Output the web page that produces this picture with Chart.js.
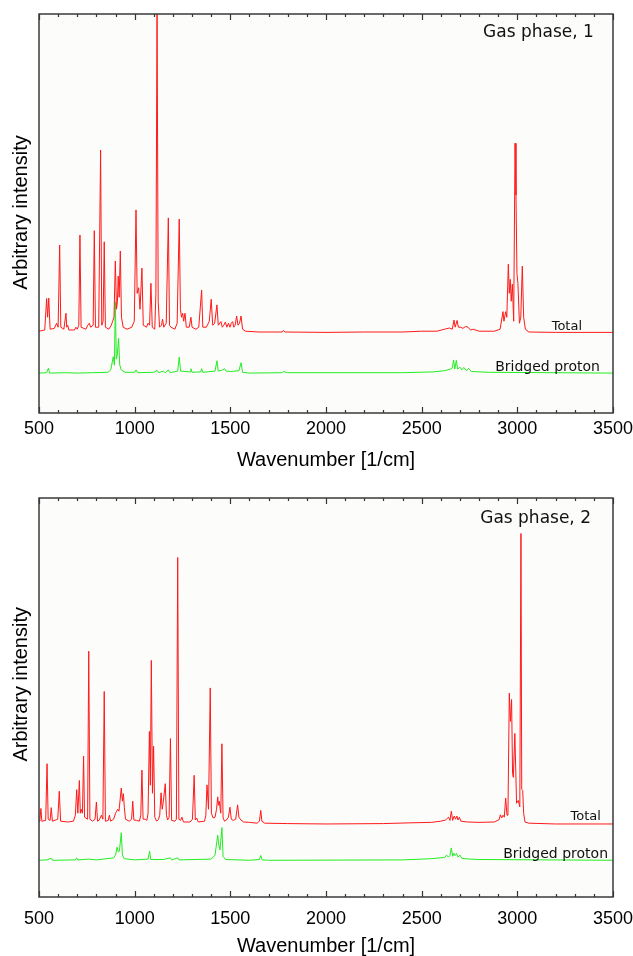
<!DOCTYPE html>
<html><head><meta charset="utf-8">
<script src="https://cdn.jsdelivr.net/npm/chart.js@4.4.0/dist/chart.umd.min.js"></script>
<style>
html,body{margin:0;padding:0;background:#fff;}
.panel{position:absolute;left:0;width:633px;height:478px;}
canvas{display:block;}
</style></head><body>
<div class="panel" style="top:0"><canvas id="c1" width="633" height="478"></canvas></div>
<div class="panel" style="top:478px"><canvas id="c2" width="633" height="478"></canvas></div>
<script>
// ---- tick labels ----
const xTickLabels = [500, 1000, 1500, 2000, 2500, 3000, 3500];
const xMinorTicks = [600,700,800,900,1100,1200,1300,1400,1600,1700,1800,1900,2100,2200,2300,2400,
  2600,2700,2800,2900,3100,3200,3300,3400];
const panelTitles = ['Gas phase, 1', 'Gas phase, 2'];
const seriesNames = ['Total', 'Bridged proton'];
const xAxisTitle = 'Wavenumber [1/cm]';
const yAxisTitle = 'Arbitrary intensity';

// ---- series: [wavenumber, intensity] ----
const total1 = [[500,20.5],[530,20.8],[540,28.7],[545,24],[551,28.8],[558,21],[580,21.2],[592,22.5],[600,21.5],
[608,42.1],[614,21.5],[630,21],[641,25],[645,21.5],[650,22],[656,20.8],[685,20.8],[693,21.5],[700,21],[708,22],
[714,44.6],[720,21.5],[745,21],[755,22],[763,22.5],[770,21.5],[783,22],[789,45.7],[795,21.5],[812,21.5],
[822,65.9],[828,22],[835,23],[841,42.9],[847,21.5],[865,21],[878,22],[885,23],[892,24],[899,38.1],[905,26],
[910,28],[914,34.3],[919,29],[925,40.6],[931,24],[940,21.5],[960,21],[985,21.5],[998,23],[1007,50.9],[1013,30],
[1021,31.4],[1028,26],[1038,36.3],[1045,22],[1062,21.5],[1070,22.5],[1078,22],[1085,32.5],[1092,21.5],[1105,21],
[1111,30],[1117,102],[1123,28],[1130,21.5],[1140,22],[1146,23.5],[1152,21.5],[1165,22.5],[1176,48.9],[1182,22],
[1190,21.5],[1210,21],[1222,22.5],[1233,48.6],[1239,26],[1245,24],[1251,25],[1256,23],[1263,25],[1270,21.5],
[1285,21.5],[1294,24],[1300,21.5],[1320,21],[1335,21.5],[1350,30.8],[1356,21.5],[1375,21.5],[1390,23],[1400,28.5],
[1408,22],[1418,22.5],[1430,27.1],[1437,22],[1451,22.9],[1458,21.5],[1466,22],[1474,22.8],[1482,21.5],[1490,22.5],
[1498,21.5],[1505,22.5],[1512,22.9],[1518,21.5],[1525,22],[1533,24.3],[1540,22],[1548,22.5],[1556,24.3],[1564,21],
[1580,20.5],[1650,20.3],[1770,20.3],[1777,20.7],[1785,20.3],[2000,20.2],[2200,20.3],[2400,20.3],[2500,20.5],[2580,20.5],
[2620,21],[2645,21.3],[2660,21],[2669,23.3],[2675,21.5],[2685,23.2],[2692,21.5],[2705,21.5],[2715,21.2],[2730,21.7],
[2742,21.5],[2755,20.8],[2770,21],[2800,20.5],[2880,20.5],[2910,21],[2925,25.4],[2930,23],[2939,25.4],[2945,24],
[2953,37.3],[2958,30],[2963,33.5],[2968,28],[2974,32.3],[2981,23],[2988,67.6],[2993,54.6],[2998,35],[3003,32.5],
[3011,22.5],[3018,24],[3026,36.8],[3033,24],[3042,21],[3060,20.3],[3200,20.2],[3500,20.2]];

const bridged1 = [[500,10],[540,10.1],[549,11.2],[556,10],[640,10.1],[700,10],[780,10.1],[860,10.2],[875,10.8],
[888,14.1],[894,12],[899,27.9],[904,13.5],[909,14.5],[916,18.7],[922,12],[930,10.8],[950,10.2],[1000,10.2],[1007,10.8],
[1015,10.1],[1100,10.2],[1117,10.7],[1125,10.1],[1150,10.5],[1160,10.1],[1176,10.8],[1185,10.1],[1225,10.5],[1233,14],
[1240,10.5],[1290,10.3],[1294,11.1],[1300,10.2],[1345,10.3],[1350,11.1],[1356,10.2],[1420,10.5],[1430,13.1],
[1437,10.5],[1460,10.8],[1470,11.1],[1478,10.5],[1500,10.4],[1545,10.6],[1556,12.6],[1564,10.2],[1600,10],
[1770,10.1],[1777,10.4],[1800,10.1],[2400,10.1],[2560,10.3],[2620,10.6],[2650,11],[2660,11.3],[2667,13.3],[2673,11],
[2681,13.2],[2688,11],[2700,11.5],[2710,10.8],[2720,11.4],[2735,10.6],[2745,11.2],[2760,10.4],[2850,10.2],[3500,10]];

const total2 = [[500,19],[505,19.5],[510,22.2],[515,19],[535,19.2],[542,33.4],[548,19.5],[558,19.2],[564,22.4],
[570,19],[598,19.5],[606,26.5],[613,19],[650,18.8],[680,19],[690,20.5],[697,26.9],[703,21],[711,29.2],[716,21],
[720,22],[727,21],[733,35.3],[738,20],[754,19.5],[760,61.6],[766,19.5],[780,19],[793,19.5],[800,23.8],[806,19],
[815,19.3],[826,20.5],[834,19.5],[841,51.5],[847,19],[862,19.2],[868,20.5],[874,19],[890,19.5],[900,21],[906,21.5],
[911,22],[918,21.5],[930,27.3],[936,24],[941,25.9],[946,22.5],[952,19.5],[972,19],[984,19.5],[990,24],[996,19.3],
[1010,19.2],[1025,19],[1032,20.5],[1038,31.8],[1044,19.5],[1055,19.5],[1064,19.2],[1070,21],[1077,41.5],[1082,28],
[1087,59.3],[1093,26],[1099,37.8],[1105,20],[1115,19],[1125,19.5],[1131,20.5],[1138,26.1],[1144,22],[1150,24],
[1160,28.4],[1166,20.5],[1172,19.3],[1180,20],[1187,39.7],[1193,19.2],[1210,19],[1218,19.5],[1225,85.1],[1231,19.5],
[1240,19.2],[1247,20],[1255,18.8],[1290,18.8],[1302,19.5],[1311,30.5],[1317,19.3],[1324,19.8],[1332,18.8],[1365,19],
[1372,20.5],[1378,28.1],[1386,22],[1395,52.4],[1401,21],[1410,19.8],[1420,20],[1428,22],[1434,25.1],[1438,23],
[1442,24],[1450,21],[1456,38.4],[1462,19.8],[1470,19],[1480,19.3],[1490,20],[1498,22.5],[1505,19.5],[1515,19.2],
[1528,19.5],[1538,23.1],[1545,20],[1555,19.3],[1570,18.8],[1600,18.7],[1640,18.5],[1652,19],[1659,21.7],[1665,19],
[1680,18.5],[1800,18.4],[2000,18.3],[2300,18.4],[2450,18.6],[2550,18.7],[2600,19],[2625,19.3],[2640,20],[2648,19.2],
[2655,21.5],[2662,19.2],[2670,20.3],[2677,19.5],[2684,20.3],[2690,19.3],[2697,20],[2705,19],[2740,18.8],[2800,18.7],
[2880,18.8],[2905,19.4],[2911,20.6],[2918,19.8],[2925,20.5],[2932,20],[2939,24.8],[2946,20.5],[2951,21],[2958,51.1],
[2964,44],[2970,49.5],[2975,31],[2979,30],[2987,41],[2996,23.5],[3005,24.2],[3013,22.6],[3019,91.1],[3023,27],
[3028,26.7],[3033,21],[3040,18.8],[3060,18.5],[3200,18.3],[3500,18.3]];

const bridged2 = [[500,9.2],[542,9.3],[564,9.7],[570,9.2],[690,9.3],[697,9.8],[703,9.3],[760,9.5],[800,9.3],
[890,9.8],[900,10.5],[908,12.5],[914,11.3],[920,11.5],[930,16.1],[936,10.5],[945,9.6],[1000,9.3],[1070,9.5],
[1078,11.5],[1084,9.4],[1150,9.4],[1187,9.8],[1193,9.3],[1225,9.8],[1231,9.3],[1400,9.5],[1420,10.5],[1434,15.5],
[1440,13],[1446,11.8],[1456,17.4],[1462,10.2],[1475,9.4],[1600,9.2],[1652,9.4],[1659,10.4],[1666,9.3],[1700,9.2],
[2400,9.3],[2550,9.6],[2620,9.9],[2630,10.5],[2640,10],[2648,10.4],[2655,12.3],[2662,10.2],[2668,11],[2675,10.4],
[2682,10.9],[2690,10],[2700,10.5],[2710,9.7],[2750,9.5],[2800,9.4],[3500,9.2]];

// ---- drawing helpers ----
const decorPlugin = {
  id: 'decor',
  beforeDatasetsDraw(chart) {
    const {ctx, chartArea: a} = chart;
    ctx.save();
    ctx.fillStyle = '#fcfcfa';
    ctx.fillRect(a.left, a.top, a.right - a.left, a.bottom - a.top);
    ctx.restore();
  },
  afterDraw(chart, args, opts) {
    const {ctx, chartArea: a, scales} = chart;
    const x = scales.x, y = scales.y;
    ctx.save();
    ctx.strokeStyle = '#333';
    ctx.lineWidth = 1.2;
    const tick = (v, len) => {
      const px = Math.round(x.getPixelForValue(v)) + 0.5;
      ctx.beginPath();
      ctx.moveTo(px, a.bottom); ctx.lineTo(px, a.bottom - len);
      ctx.moveTo(px, a.top); ctx.lineTo(px, a.top + len);
      ctx.stroke();
    };
    xMinorTicks.forEach(v => tick(v, 3));
    xTickLabels.forEach(v => tick(v, 6));
    ctx.strokeStyle = '#3a3a3a';
    ctx.lineWidth = 1.5;
    ctx.strokeRect(a.left, a.top, a.right - a.left, a.bottom - a.top);
    ctx.fillStyle = '#111';
    ctx.textAlign = 'right';
    ctx.textBaseline = 'alphabetic';
    ctx.font = '17px "DejaVu Sans"';
    ctx.fillText(opts.title, x.getPixelForValue(opts.titlePos[0]), y.getPixelForValue(opts.titlePos[1]));
    ctx.font = '13px "DejaVu Sans"';
    ctx.fillText(seriesNames[0], x.getPixelForValue(opts.totalPos[0]), y.getPixelForValue(opts.totalPos[1]));
    ctx.font = '14px "DejaVu Sans"';
    ctx.fillText(seriesNames[1], x.getPixelForValue(opts.bridgedPos[0]), y.getPixelForValue(opts.bridgedPos[1]));
    ctx.translate(21.5, opts.yTitleCenter);
    ctx.rotate(-Math.PI / 2);
    ctx.textAlign = 'center';
    ctx.textBaseline = 'middle';
    ctx.fillStyle = '#000';
    ctx.font = '20px "Liberation Sans", Arial, sans-serif';
    ctx.fillText(yAxisTitle, 0, 0);
    ctx.restore();
  }
};

function toPoints(arr) { return arr.map(p => ({x: p[0], y: p[1]})); }

function makeChart(id, total, bridged, cfg) {
  return new Chart(document.getElementById(id), {
    type: 'line',
    data: {
      datasets: [
        {label: seriesNames[0], data: toPoints(total), borderColor: '#ff1a1a', borderWidth: 1,
         pointRadius: 0, tension: 0, fill: false},
        {label: seriesNames[1], data: toPoints(bridged), borderColor: '#22ee22', borderWidth: 1,
         pointRadius: 0, tension: 0, fill: false}
      ]
    },
    options: {
      responsive: false,
      animation: false,
      devicePixelRatio: 1,
      layout: {padding: {top: cfg.top, right: 20, left: 39, bottom: 0}},
      plugins: {
        legend: {display: false},
        tooltip: {enabled: false},
        decor: cfg
      },
      scales: {
        x: {
          type: 'linear', min: 500, max: 3500,
          afterBuildTicks: s => { s.ticks = xTickLabels.map(v => ({value: v})); },
          afterFit: s => { s.height = cfg.xh; s.paddingLeft = 0; s.paddingRight = 0; },
          grid: {display: false},
          border: {display: false},
          ticks: {
            autoSkip: false, maxRotation: 0, padding: cfg.tickPad, color: '#000',
            font: {family: '"Liberation Sans", Arial, sans-serif', size: 18},
            callback: v => String(v)
          },
          title: {
            display: true, text: xAxisTitle, color: '#000',
            font: {family: '"Liberation Sans", Arial, sans-serif', size: 20, lineHeight: 1},
            padding: {top: 0, bottom: cfg.titlePad}
          }
        },
        y: {type: 'linear', min: 0, max: 100, display: false}
      }
    },
    plugins: [decorPlugin]
  });
}

makeChart('c1', total1, bridged1, {
  top: 14, xh: 65, tickPad: -3, titlePad: 8,
  title: panelTitles[0], titlePos: [3400, 94.2], totalPos: [3338, 20.8], bridgedPos: [3432, 10.6],
  yTitleCenter: 212.5
});
makeChart('c2', total2, bridged2, {
  top: 20, xh: 59, tickPad: 3.5, titlePad: 0,
  title: panelTitles[1], titlePos: [3385, 93.7], totalPos: [3437, 19.2], bridgedPos: [3474, 9.8],
  yTitleCenter: 206.3
});
</script>
</body></html>
